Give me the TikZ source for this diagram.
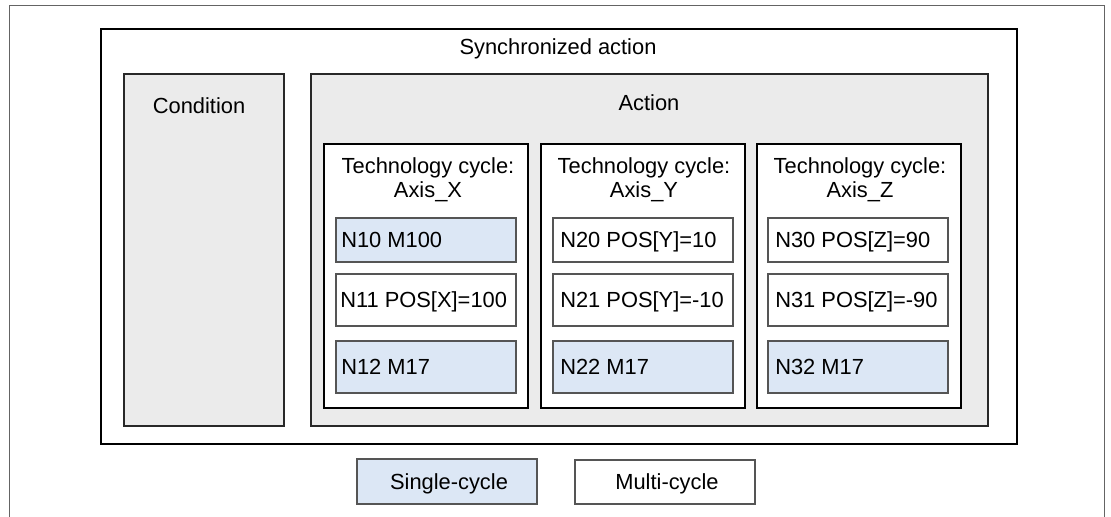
\documentclass[tikz,border=0pt]{standalone}
\usepackage{fontspec}
\setmainfont{Liberation Sans}
\usepackage{tikz}

\tikzset{
	syncbox/.style={draw=black, line width=1.5},
	graybox/.style={draw={rgb, 255:red, 40; green, 40; blue, 40 }, fill={rgb, 255:red, 235; green, 235; blue, 235 }, line width=1.2},
	cyclebox/.style={draw=black, fill=white, line width=1.4},
	singlebox/.style={draw={rgb, 255:red, 85; green, 85; blue, 85 }, fill={rgb, 255:red, 220; green, 231; blue, 245 }, line width=0.8},
	multibox/.style={draw={rgb, 255:red, 85; green, 85; blue, 85 }, fill=white, line width=0.8},
	lbl/.style={font=\fontsize{16.4}{18}\selectfont, inner sep=0pt, text height=11.7pt, text depth=0pt},
	stmt/.style={lbl, anchor=west},
}

\begin{document}
\begin{tikzpicture}[x=0.75pt,y=0.75pt,yscale=-1,xscale=1]
	\useasboundingbox (0,0) rectangle (1111,517);
	
	%Shape: Frame [id:outer]
	\draw [color={rgb, 255:red, 100; green, 100; blue, 100 }, line width=0.75] (9,530) -- (9,6) -- (1104,6) -- (1104,530) ;
	%Shape: Rectangle [id:sync]
	\draw [syncbox] (101,29) rectangle (1017,444) ;
	\node [lbl] (synclbl) at (558,47) {Synchronized action};
	
	%Shape: Rectangle [id:condition]
	\draw [graybox] (124,74) rectangle (284,426) ;
	\node [lbl] (condlbl) at (199,106) {Condition};
	
	%Shape: Rectangle [id:action]
	\draw [graybox] (311,74) rectangle (988,426) ;
	\node [lbl] (actlbl) at (649,103) {Action};
	
	%Technology cycle X
	\draw [cyclebox] (324,144) rectangle (528,408) ;
	\node [lbl, align=center] (cycx) at (428,190) {Technology cycle:\\Axis\_X};
	\draw [singlebox] (336,218) rectangle (516,262) ;
	\node [stmt] (nten) at (341,240) {N10 M100};
	\draw [multibox] (336,274) rectangle (516,326) ;
	\node [stmt] (neleven) at (340,300) {N11 POS[X]=100};
	\draw [singlebox] (336,341) rectangle (516,393) ;
	\node [stmt] (ntwelve) at (341,367) {N12 M17};
	
	%Technology cycle Y
	\draw [cyclebox] (541,144) rectangle (745,408) ;
	\node [lbl, align=center] (cycy) at (644,190) {Technology cycle:\\Axis\_Y};
	\draw [multibox] (553,218) rectangle (733,262) ;
	\node [stmt] (ntwenty) at (560,240) {N20 POS[Y]=10};
	\draw [multibox] (553,274) rectangle (733,326) ;
	\node [stmt] (ntwentyone) at (560,300) {N21 POS[Y]=-10};
	\draw [singlebox] (553,341) rectangle (733,393) ;
	\node [stmt] (ntwentytwo) at (560,367) {N22 M17};
	
	%Technology cycle Z
	\draw [cyclebox] (757,144) rectangle (961,408) ;
	\node [lbl, align=center] (cycz) at (860,190) {Technology cycle:\\Axis\_Z};
	\draw [multibox] (768,218) rectangle (948,262) ;
	\node [stmt] (nthirty) at (775,240) {N30 POS[Z]=90};
	\draw [multibox] (768,274) rectangle (948,326) ;
	\node [stmt] (nthirtyone) at (775,300) {N31 POS[Z]=-90};
	\draw [singlebox] (768,341) rectangle (948,393) ;
	\node [stmt] (nthirtytwo) at (775,367) {N32 M17};
	
	%Legend
	\draw [singlebox] (357,459) rectangle (537,504) ;
	\node [lbl] (singlelbl) at (449,482) {Single-cycle};
	\draw [multibox] (575,460) rectangle (755,504) ;
	\node [lbl] (multilbl) at (667,482) {Multi-cycle};
	
\end{tikzpicture}
\end{document}
